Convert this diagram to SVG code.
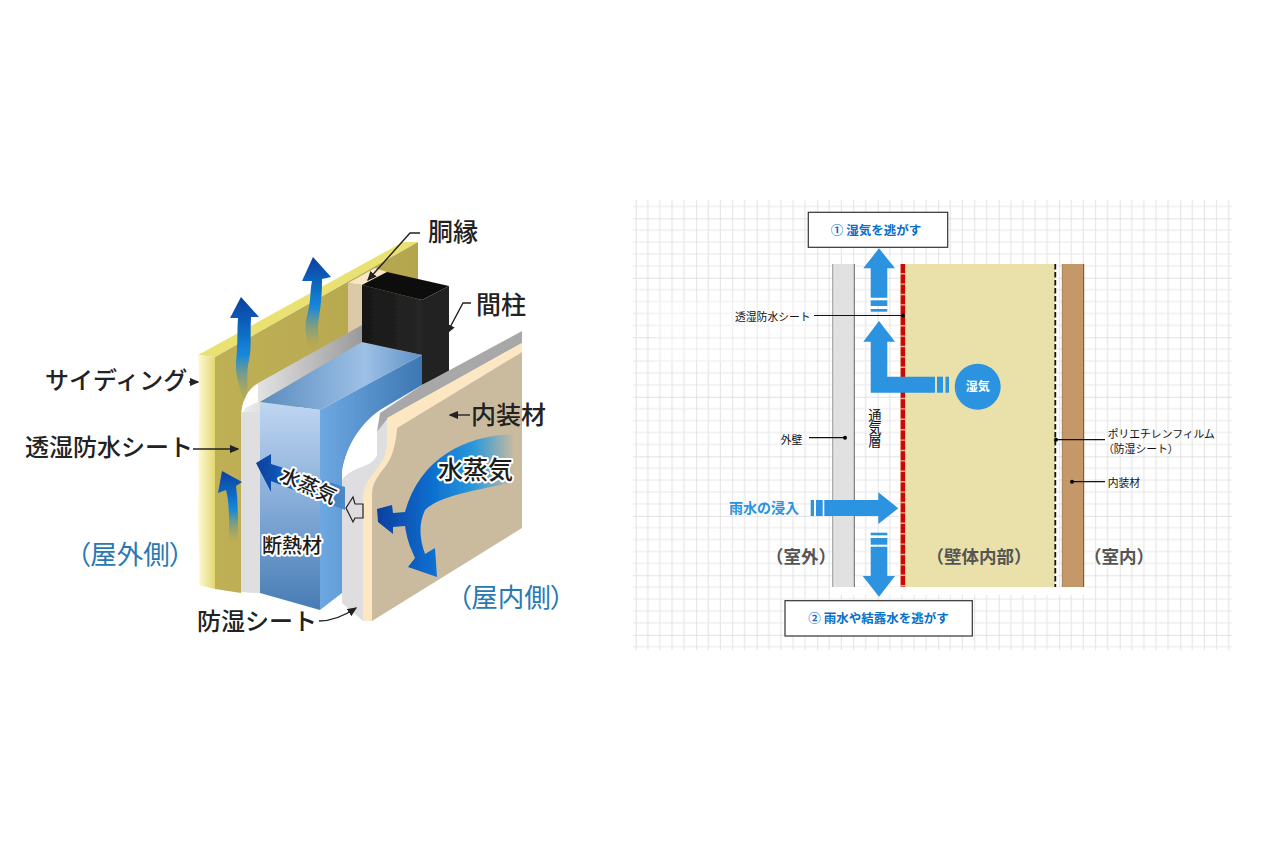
<svg xmlns="http://www.w3.org/2000/svg" width="1286" height="857" viewBox="0 0 1286 857">
<style>
text{font-family:"Noto Sans CJK JP","Noto Sans",sans-serif}
.l{font-size:24px;fill:#222;font-weight:500}
.o{font-size:26.5px;fill:#2878b4;font-weight:400;font-feature-settings:"palt"}
.h{fill:#1c1c1c;stroke:#fff;stroke-width:4px;paint-order:stroke;stroke-linejoin:round;font-weight:500}
.a{stroke:#222;stroke-width:1.4;fill:none}
.s{font-size:10.8px;fill:#111}
.g{font-size:17.5px;font-weight:700;fill:#555;text-anchor:middle}
.b{font-size:12.5px;font-weight:700;fill:#0a6fc8;text-anchor:middle}
.w{fill:#2b93e0}
.r{stroke:#111;stroke-width:1.2;fill:none}
.d{fill:#000}
</style>
<defs>
<pattern id="grid" x="635.7" y="218.3" width="60.5" height="59.5" patternUnits="userSpaceOnUse">
<path d="M12.1 0V60M24.2 0V60M36.3 0V60M48.4 0V60M0 11.9H61M0 23.8H61M0 35.7H61M0 47.6H61" stroke="#e7e7e7" stroke-width="1.2" fill="none"/>
<path d="M0 0V60M0 0H61" stroke="#d9d9d9" stroke-width="1.5" fill="none"/>
</pattern>
<linearGradient id="sf" x1="0" x2="1" y1="0" y2="0"><stop offset="0" stop-color="#fdfad6"/><stop offset="1" stop-color="#e4d873"/></linearGradient>
<linearGradient id="sf2" x1="0" x2="1" y1="0" y2="0"><stop offset="0" stop-color="#bfb055"/><stop offset="1" stop-color="#b4a64e"/></linearGradient>
<linearGradient id="band" x1="0" x2="1" y1="0" y2="0"><stop offset="0" stop-color="#eeeeee"/><stop offset="1" stop-color="#9a9a9a"/></linearGradient>
<linearGradient id="front" x1="0" x2="0" y1="0" y2="1"><stop offset="0" stop-color="#c0d6f2"/><stop offset=".55" stop-color="#7ea6d4"/><stop offset="1" stop-color="#477cb4"/></linearGradient>
<linearGradient id="side" x1="0" x2="1" y1="0" y2="0"><stop offset="0" stop-color="#6ea8e2"/><stop offset="1" stop-color="#3d77b2"/></linearGradient>
<linearGradient id="top" x1="0" x2="1" y1="0" y2="0"><stop offset="0" stop-color="#5a8cbf"/><stop offset=".65" stop-color="#9dc0e6"/><stop offset="1" stop-color="#5f92c6"/></linearGradient>
<linearGradient id="blk" x1="0" x2="1" y1="0" y2="0"><stop offset="0" stop-color="#171717"/><stop offset="1" stop-color="#262626"/></linearGradient>
<linearGradient id="up" x1="0" x2="0" y1="0" y2="1"><stop offset="0" stop-color="#0a3f9f"/><stop offset=".55" stop-color="#1488dc"/><stop offset="1" stop-color="#b4a64e" stop-opacity=".25"/></linearGradient>
<linearGradient id="big" gradientUnits="userSpaceOnUse" x1="377" x2="515" y1="0" y2="0"><stop offset="0" stop-color="#0a3f9f"/><stop offset=".4" stop-color="#0d6fd0"/><stop offset=".7" stop-color="#2a98da"/><stop offset="1" stop-color="#cbbb9e"/></linearGradient>
<linearGradient id="lft" gradientUnits="userSpaceOnUse" x1="256" x2="345" y1="0" y2="0"><stop offset="0" stop-color="#0a3f9f"/><stop offset=".6" stop-color="#1d78d0"/><stop offset="1" stop-color="#4f8ac4"/></linearGradient>
<filter id="soft" x="-5%" y="-5%" width="110%" height="110%"><feGaussianBlur stdDeviation=".5"/></filter>
<marker id="ah" markerWidth="7" markerHeight="6" refX="6" refY="3" orient="auto"><path d="M0 0L7 3L0 6Z" fill="#222"/></marker>
</defs>

<g id="illustration" filter="url(#soft)">
<g id="siding">
<path d="M198,355L403,242L418,242L215,357Z" fill="#e9e272"/>
<path d="M215,357L418,242V340L241,440V593L215,589Z" fill="url(#sf2)"/>
<path d="M198,355L215,357V589L199,585C201,560 196,520 199,490C197,450 201,400 198,355Z" fill="url(#sf)"/>
</g>
<g id="furring">
<path d="M348,283L375,268L387,272L362,285Z" fill="#f9e6c4"/>
<path d="M348,283L362,285V335H348Z" fill="#dcc9a8"/>
</g>
<g id="moisture-permeable-sheet">
<path d="M241,420C241,400 248,388 260,382L362,325V343L260,402V593L241,592Z" fill="url(#band)"/>
<path d="M241,421C241,400 248,390 258,384V402L245,408Z" fill="#fff"/>
<path d="M241,412H260V593L241,592Z" fill="#dfdfe1"/>
</g>
<g id="insulation">
<path d="M260,402L362,342L422,355L320,410Z" fill="url(#top)"/>
<path d="M260,402L320,410V610L260,593Z" fill="url(#front)"/>
<path d="M320,410L422,355V385L380,410C358,425 345,450 342,473V593L320,610Z" fill="url(#side)"/>
</g>
<g id="stud">
<path d="M362,285L387,272L449,286L422,300Z" fill="#0e0e0e"/>
<path d="M362,285L422,300V355L362,342Z" fill="url(#blk)"/>
<path d="M422,300L449,286V372L422,385Z" fill="#232323"/>
</g>
<g id="inner-sheet">
<path d="M380,412C358,425 345,450 342,473V490L377,470V420Z" fill="#fff"/>
<path d="M377,432V455C372,468 352,466 342,480V603L363,621H372L400,440L388,418Z" fill="#dedee0"/>
<path d="M422,385L522,331V343L388,418L377,432L380,413Z" fill="#a8a8a8"/>
</g>
<g id="panel">
<path d="M522,343V352L397,428C396,445 392,458 385,467C378,476 372,483 372,495V621H363V497C363,485 370,478 376,470C382,462 387,455 387,440V418Z" fill="#fde6c2"/>
<path d="M522,352V528L372,621V495C372,483 378,476 385,467C392,458 396,445 397,428Z" fill="#cbbb9e"/>
</g>
<g id="vapour-arrows">
<path d="M513,434C465,436 420,458 405,512L393,513L392,505L377,509L378,522L393,534L393,527L405,526C408,545 412,550 415,558L408,567L437,577L435,548L425,554C420,540 418,525 425,510C440,495 480,490 513,482Z" fill="url(#big)"/>
<path d="M346,508L353,497L355,504H363V518H355L353,522Z" fill="#dedee0" stroke="#222" stroke-width="1.2"/>
<path d="M241,297L259,317L251,317C250,340 252,350 248,365C246,380 250,390 244,402C240,388 235,375 236,362C238,345 237,330 238,318L230,318Z" fill="url(#up)"/>
<path d="M313,257L331,277L322,279C322,300 320,310 318,325C318,335 320,340 316,348L309,348C305,335 304,325 308,312C311,300 310,290 312,281L302,281Z" fill="url(#up)"/>
<path d="M222,471L242,482L236,486C238,500 238,520 238,542H229C229,525 230,505 226,490L218,493Z" fill="url(#up)"/>
<path d="M256,463L271,454V464L345,487V510L271,481V492Z" fill="url(#lft)"/>
</g>
</g>

<g id="illustration-labels">
<text class="l" x="45" y="389">サイディング</text>
<path class="a" d="M189,382H198" marker-end="url(#ah)"/>
<text class="l" x="25" y="456">透湿防水シート</text>
<path class="a" d="M193,449H238" marker-end="url(#ah)"/>
<text class="o" x="77" y="564">（屋外側）</text>
<text class="l" x="197" y="630">防湿シート</text>
<path class="a" d="M319,621C332,621 344,616 356,608" marker-end="url(#ah)"/>
<text class="l" x="428" y="241" style="font-size:25px">胴縁</text>
<path class="a" d="M420,233H410L368,280" marker-end="url(#ah)"/>
<text class="l" x="476" y="314" style="font-size:25px">間柱</text>
<path class="a" d="M471,303H463L447,333" marker-end="url(#ah)"/>
<text class="l" x="471" y="424" style="font-size:25px">内装材</text>
<path class="a" d="M470,415H450" marker-end="url(#ah)"/>
<text class="h" x="438" y="479" style="font-size:25px">水蒸気</text>
<text class="h" x="0" y="0" style="font-size:20px" transform="translate(278,480) rotate(24)">水蒸気</text>
<text class="h" x="262" y="553" style="font-size:20px">断熱材</text>
<text class="o" x="458" y="607">（屋内側）</text>
</g>

<g id="section-background">
<rect x="633" y="200" width="599" height="450" fill="url(#grid)"/>
<rect x="655" y="300" width="160" height="62" fill="#fff" opacity=".3"/>
<rect x="830" y="587" width="256" height="8" fill="#fff"/>
</g>
<g id="outer-wall"><rect x="832.7" y="264" width="21.6" height="323" fill="#e1e1e1"/><path d="M832.7,264V587" stroke="#999" fill="none"/><path d="M854.3,264V587" stroke="#666" fill="none"/></g>
<g id="cavity"><rect x="905" y="264" width="150" height="323" fill="#e9e1a9"/></g>
<g id="membrane"><rect x="900.2" y="264" width="5.4" height="323" fill="#eda79a"/><path d="M902.9,264V587" stroke="#c80a00" stroke-width="4.2" stroke-dasharray="9 1.4" fill="none"/></g>
<g id="vapour-film"><path d="M1056.5,264V587" stroke="#fff" stroke-width="2" fill="none"/><path d="M1055.3,264V587" stroke="#111" stroke-width="1.8" stroke-dasharray="5.5 2.5" fill="none"/></g>
<g id="interior-board"><rect x="1062.3" y="264" width="21.4" height="323" fill="#c49868"/><path d="M1062.3,264V587" stroke="#a08050" fill="none"/><path d="M1083.7,264V587" stroke="#6f4a28" fill="none"/></g>

<g id="connectors">
<path class="w" d="M879,248.3L895,268.3H887.3V297.7H870.7V268.3H863.3Z"/>
<rect class="w" x="870.7" y="300.3" width="16.6" height="5.7"/>
<rect class="w" x="870.7" y="309" width="16.6" height="2.7"/>
<path class="w" d="M879,321L895,341.7H887.3V376.7H935V392.7H870.7V341.7H863.3Z"/>
<rect class="w" x="937" y="376.7" width="6" height="16"/>
<rect class="w" x="945.5" y="376.7" width="3.5" height="16"/>
<path class="w" d="M898.3,508.3L878.3,524V516H824.3V500H878.3V492.3Z"/>
<rect class="w" x="810.7" y="500" width="3.3" height="16"/>
<rect class="w" x="816" y="500" width="6.7" height="16"/>
<rect class="w" x="870.7" y="532.7" width="16.6" height="2.6"/>
<rect class="w" x="870.7" y="538" width="16.6" height="6.7"/>
<path class="w" d="M879,596.7L895,576H887.3V546.7H870.7V576H862.7Z"/>
<path class="r" d="M814,315.5H903"/><circle class="d" cx="903" cy="315.5" r="2"/>
<path class="r" d="M809,437.7H845"/><circle class="d" cx="845" cy="437.7" r="2"/>
<path class="r" d="M1056,439.7H1105"/><circle class="d" cx="1056" cy="439.7" r="2"/>
<path class="r" d="M1072,481.7H1105"/><circle class="d" cx="1072" cy="481.7" r="2"/>
</g>

<g id="box-1"><rect x="808.3" y="212.3" width="139.4" height="35" fill="#fff" stroke="#333" stroke-width="1.2"/><text class="b" x="876" y="234.5">① 湿気を逃がす</text></g>
<g id="box-2"><rect x="785" y="600.7" width="187.3" height="35.3" fill="#fff" stroke="#333" stroke-width="1.2"/><text class="b" x="878.5" y="622.5">② 雨水や結露水を逃がす</text></g>
<g id="moisture"><circle class="w" cx="977.7" cy="386.7" r="23"/><text x="977.7" y="391" style="font-size:12px;font-weight:700;fill:#fff;text-anchor:middle">湿気</text></g>

<g id="section-labels">
<text class="s" x="735" y="321">透湿防水シート</text>
<text class="s" x="780.7" y="444">外壁</text>
<text x="875" y="408" style="font-size:13.3px;fill:#111;writing-mode:vertical-rl;text-anchor:start">通気層</text>
<text x="729" y="513" style="font-size:14px;font-weight:700;fill:#2b93e0">雨水の浸入</text>
<text class="g" x="801" y="563">（室外）</text>
<text class="g" x="979" y="563">（壁体内部）</text>
<text class="g" x="1119" y="563">（室内）</text>
<text class="s" x="1107.7" y="438">ポリエチレンフィルム</text>
<text class="s" x="1103" y="453">（防湿シート）</text>
<text class="s" x="1107.7" y="487">内装材</text>
</g>
</svg>
